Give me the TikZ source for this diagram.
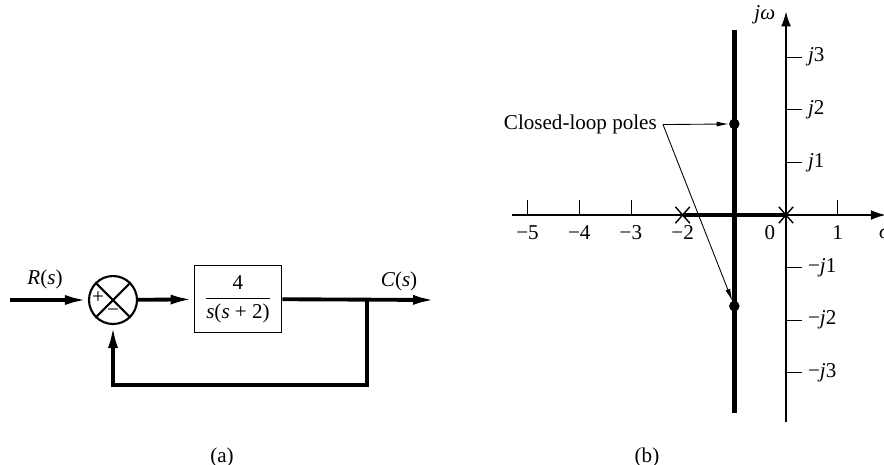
\documentclass[tikz,border=0pt]{standalone}
\usepackage{fontspec}
\setmainfont{Liberation Serif}
\usetikzlibrary{arrows.meta,positioning,shapes.misc}

\begin{document}
\begin{tikzpicture}[
  x=0.02cm, y=-0.02cm, font=\fontsize{12}{14}\selectfont,
  sig/.style={line width=2.2pt},
  arr/.style={sig, -{Latex[length=4.6mm, width=2mm]}},
  blk/.style={draw, line width=1pt, minimum width=1.74cm, minimum height=1.34cm,
              inner sep=0pt},
  sumc/.style={draw, circle, line width=1.2pt, minimum size=0.96cm, inner sep=0pt},
  axis/.style={line width=1pt, -{Latex[length=3mm, width=2mm]}},
  locus/.style={line width=2.6pt},
  tick/.style={line width=0.5pt},
  xmark/.style={cross out, draw, line width=0.8pt, minimum width=0.26cm,
                minimum height=0.3cm, inner sep=0pt},
  pole/.style={circle, fill, inner sep=0pt, minimum size=0.21cm},
  note/.style={line width=0.5pt, -{Latex[length=2.4mm, width=1mm]}},
]
\useasboundingbox (0,0) rectangle (884,464);
% (a) block diagram
\coordinate (rin) at (10,300);
\node[sumc] (sum) at (113,300) {};
\draw[line width=1.2pt] (sum.north west) -- (sum.south east)
                        (sum.north east) -- (sum.south west);
\node[inner sep=0pt] (plus) at (98,298) {+};
\node[inner sep=0pt] (minus) at (113,313) {−};
\node[blk] (plant) at (238,299)
  {$\displaystyle\frac{\hbox{4}}{\hbox{\textit{s}(\textit{s} + 2)}}$};
\coordinate (cout) at (436,300);
\coordinate (br) at (367,300);
\coordinate (fb) at (367,385);
\draw[arr] (rin) -- (sum.west);
\draw[arr] (sum) -- (plant);
\draw[arr] (plant) -- (cout);
\draw[arr] (br) -- (fb) -| (sum.south);
\node (rlab) at (45,279) {\textit{R}(\textit{s})};
\node (clab) at (399,281) {\textit{C}(\textit{s})};
\node (capa) at (222,457) {(a)};
% (b) root locus
\begin{scope}[shift={(786,215)}, x=1.034cm, y=1.052cm]
  \draw[axis] (-5.3,0) -- (1.93,0);
  \draw[axis] (0,-3.94) -- (0,3.87);
  \foreach \k in {-5,-4,-3,1}
    \draw[tick] (\k,0) -- (\k,0.29);
  \foreach \k [count=\i] in {-5,-4,-3,-2}
    \node (re\i) at (\k,-0.34) {−\the\numexpr-\k\relax};
  \node (re0) at (-0.31,-0.34) {0};
  \node (re5) at (1,-0.34) {1};
  \node (sigma) at (1.91,-0.34) {\textit{σ}};
  \foreach \k in {1,2,3} {
    \draw[tick] (0,\k) -- (0.31,\k);
    \draw[tick] (0,-\k) -- (0.31,-\k);
    \node[anchor=west, inner sep=0pt] (im\k) at (0.42,\k) {\textit{j}\k};
    \node[anchor=west, inner sep=0pt] (imn\k) at (0.42,-\k) {−\textit{j}\k};
  }
  \node (jw) at (-0.41,3.8) {\textit{jω}};
  \draw[locus] (-2,0) -- (0,0);
  \draw[locus] (-1,3.52) -- (-1,-3.76);
  \node[xmark] (ol1) at (-2,0) {};
  \node[xmark] (ol2) at (0,0) {};
  \node[pole] (cp1) at (-1,1.732) {};
  \node[pole] (cp2) at (-1,-1.732) {};
  \node[anchor=east] (cl) at (-2.38,1.72) {Closed-loop poles};
  \draw[note] (cl.east) -- (cp1);
  \draw[note] (cl.east) -- (cp2);
\end{scope}
\node (capb) at (647,457) {(b)};
\end{tikzpicture}
\end{document}
